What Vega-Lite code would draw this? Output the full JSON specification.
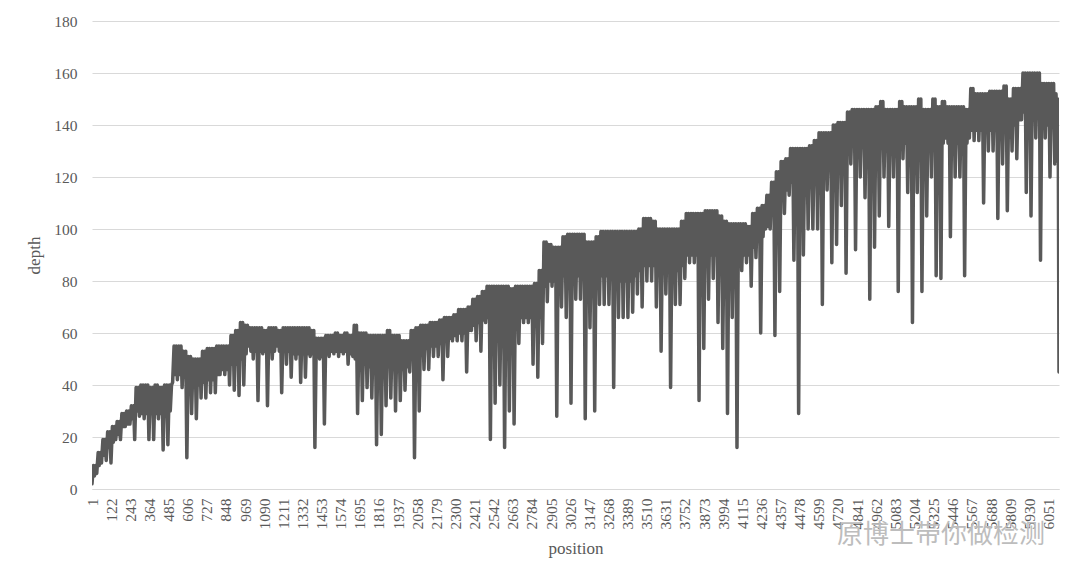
{
"$schema": "https://vega.github.io/schema/vega-lite/v6.json",
"width": 967,
"height": 468,
"autosize": {"type": "none"},
"padding": {"left": 92, "top": 21, "right": 21, "bottom": 95},
"background": "white",
"config": {"view": {"stroke": null}, "font": "Liberation Serif, Times New Roman, serif"},
"title": {"text": "原博士带你做检测", "orient": "bottom", "anchor": "end", "frame": "group", "offset": -34, "dx": -14, "font": "Noto Sans CJK SC", "fontSize": 26, "fontWeight": "normal", "color": "#bdbdbd", "baseline": "top"},
"data": {"values": [
{"position":1,"depth":2},{"position":10,"depth":9},{"position":16,"depth":5},{"position":24,"depth":9},{"position":31,"depth":6},{"position":40,"depth":14},{"position":46,"depth":9},{"position":54,"depth":14},{"position":61,"depth":10},{"position":70,"depth":19},{"position":76,"depth":13},{"position":84,"depth":19},{"position":91,"depth":11},{"position":100,"depth":22},{"position":106,"depth":16},{"position":114,"depth":22},{"position":121,"depth":10},{"position":130,"depth":24},{"position":136,"depth":18},{"position":144,"depth":24},
{"position":151,"depth":19},{"position":160,"depth":26},{"position":166,"depth":21},{"position":174,"depth":26},{"position":181,"depth":19},{"position":190,"depth":29},{"position":196,"depth":24},{"position":204,"depth":29},{"position":211,"depth":24},{"position":220,"depth":30},{"position":226,"depth":25},{"position":234,"depth":30},{"position":241,"depth":25},{"position":250,"depth":32},{"position":256,"depth":27},{"position":264,"depth":32},{"position":271,"depth":19},{"position":280,"depth":39},{"position":286,"depth":30},{"position":294,"depth":39},
{"position":301,"depth":28},{"position":310,"depth":40},{"position":316,"depth":29},{"position":324,"depth":40},{"position":331,"depth":27},{"position":340,"depth":40},{"position":346,"depth":29},{"position":354,"depth":40},{"position":361,"depth":19},{"position":370,"depth":39},{"position":376,"depth":29},{"position":384,"depth":39},{"position":391,"depth":19},{"position":400,"depth":40},{"position":406,"depth":29},{"position":414,"depth":40},{"position":421,"depth":27},{"position":430,"depth":39},{"position":436,"depth":29},{"position":444,"depth":39},
{"position":451,"depth":15},{"position":460,"depth":40},{"position":466,"depth":29},{"position":474,"depth":40},{"position":481,"depth":17},{"position":490,"depth":40},{"position":496,"depth":30},{"position":504,"depth":40},{"position":511,"depth":41},{"position":520,"depth":55},{"position":526,"depth":44},{"position":534,"depth":55},{"position":541,"depth":42},{"position":550,"depth":55},{"position":556,"depth":44},{"position":564,"depth":55},{"position":571,"depth":39},{"position":580,"depth":53},{"position":586,"depth":43},{"position":594,"depth":53},
{"position":601,"depth":12},{"position":610,"depth":51},{"position":616,"depth":41},{"position":624,"depth":51},{"position":631,"depth":29},{"position":640,"depth":50},{"position":646,"depth":40},{"position":654,"depth":50},{"position":661,"depth":27},{"position":670,"depth":50},{"position":676,"depth":40},{"position":684,"depth":50},{"position":691,"depth":35},{"position":700,"depth":53},{"position":706,"depth":41},{"position":714,"depth":53},{"position":721,"depth":35},{"position":730,"depth":54},{"position":736,"depth":42},{"position":744,"depth":54},
{"position":751,"depth":37},{"position":760,"depth":54},{"position":766,"depth":42},{"position":774,"depth":54},{"position":781,"depth":37},{"position":790,"depth":55},{"position":796,"depth":44},{"position":804,"depth":55},{"position":811,"depth":44},{"position":820,"depth":55},{"position":826,"depth":46},{"position":834,"depth":55},{"position":841,"depth":44},{"position":850,"depth":55},{"position":856,"depth":46},{"position":864,"depth":55},{"position":871,"depth":40},{"position":880,"depth":59},{"position":886,"depth":48},{"position":894,"depth":59},
{"position":901,"depth":38},{"position":910,"depth":61},{"position":916,"depth":48},{"position":924,"depth":61},{"position":931,"depth":36},{"position":940,"depth":64},{"position":946,"depth":50},{"position":954,"depth":64},{"position":961,"depth":40},{"position":970,"depth":63},{"position":976,"depth":52},{"position":984,"depth":63},{"position":991,"depth":55},{"position":1000,"depth":62},{"position":1006,"depth":53},{"position":1014,"depth":62},{"position":1021,"depth":50},{"position":1030,"depth":62},{"position":1036,"depth":53},{"position":1044,"depth":62},
{"position":1051,"depth":34},{"position":1060,"depth":62},{"position":1066,"depth":53},{"position":1074,"depth":62},{"position":1081,"depth":52},{"position":1090,"depth":61},{"position":1096,"depth":53},{"position":1104,"depth":61},{"position":1111,"depth":32},{"position":1120,"depth":62},{"position":1126,"depth":53},{"position":1134,"depth":62},{"position":1141,"depth":50},{"position":1150,"depth":62},{"position":1156,"depth":53},{"position":1164,"depth":62},{"position":1171,"depth":55},{"position":1180,"depth":61},{"position":1186,"depth":53},{"position":1194,"depth":61},
{"position":1201,"depth":37},{"position":1210,"depth":62},{"position":1216,"depth":53},{"position":1224,"depth":62},{"position":1231,"depth":48},{"position":1240,"depth":62},{"position":1246,"depth":53},{"position":1254,"depth":62},{"position":1261,"depth":43},{"position":1270,"depth":62},{"position":1276,"depth":52},{"position":1284,"depth":62},{"position":1291,"depth":50},{"position":1300,"depth":62},{"position":1306,"depth":52},{"position":1314,"depth":62},{"position":1321,"depth":41},{"position":1330,"depth":62},{"position":1336,"depth":52},{"position":1344,"depth":62},
{"position":1351,"depth":43},{"position":1360,"depth":62},{"position":1366,"depth":52},{"position":1374,"depth":62},{"position":1381,"depth":51},{"position":1390,"depth":61},{"position":1396,"depth":52},{"position":1404,"depth":61},{"position":1411,"depth":16},{"position":1420,"depth":58},{"position":1426,"depth":51},{"position":1434,"depth":58},{"position":1441,"depth":50},{"position":1450,"depth":58},{"position":1456,"depth":51},{"position":1464,"depth":58},{"position":1471,"depth":25},{"position":1480,"depth":59},{"position":1486,"depth":52},{"position":1494,"depth":59},
{"position":1501,"depth":51},{"position":1510,"depth":59},{"position":1516,"depth":53},{"position":1524,"depth":59},{"position":1531,"depth":52},{"position":1540,"depth":60},{"position":1546,"depth":53},{"position":1554,"depth":60},{"position":1561,"depth":51},{"position":1570,"depth":59},{"position":1576,"depth":53},{"position":1584,"depth":59},{"position":1591,"depth":52},{"position":1600,"depth":60},{"position":1606,"depth":53},{"position":1614,"depth":60},{"position":1621,"depth":48},{"position":1630,"depth":59},{"position":1636,"depth":52},{"position":1644,"depth":59},
{"position":1651,"depth":51},{"position":1660,"depth":63},{"position":1666,"depth":50},{"position":1674,"depth":63},{"position":1681,"depth":29},{"position":1690,"depth":60},{"position":1696,"depth":48},{"position":1704,"depth":60},{"position":1711,"depth":34},{"position":1720,"depth":60},{"position":1726,"depth":48},{"position":1734,"depth":60},{"position":1741,"depth":39},{"position":1750,"depth":59},{"position":1756,"depth":47},{"position":1764,"depth":59},{"position":1771,"depth":35},{"position":1780,"depth":59},{"position":1786,"depth":47},{"position":1794,"depth":59},
{"position":1801,"depth":17},{"position":1810,"depth":59},{"position":1816,"depth":47},{"position":1824,"depth":59},{"position":1831,"depth":21},{"position":1840,"depth":59},{"position":1846,"depth":47},{"position":1854,"depth":59},{"position":1861,"depth":32},{"position":1870,"depth":61},{"position":1876,"depth":47},{"position":1884,"depth":61},{"position":1891,"depth":35},{"position":1900,"depth":59},{"position":1906,"depth":46},{"position":1914,"depth":59},{"position":1921,"depth":30},{"position":1930,"depth":59},{"position":1936,"depth":46},{"position":1944,"depth":59},
{"position":1951,"depth":34},{"position":1960,"depth":57},{"position":1966,"depth":46},{"position":1974,"depth":57},{"position":1981,"depth":38},{"position":1990,"depth":57},{"position":1996,"depth":47},{"position":2004,"depth":57},{"position":2011,"depth":45},{"position":2020,"depth":61},{"position":2026,"depth":50},{"position":2034,"depth":61},{"position":2041,"depth":12},{"position":2050,"depth":62},{"position":2056,"depth":52},{"position":2064,"depth":62},{"position":2071,"depth":30},{"position":2080,"depth":63},{"position":2086,"depth":53},{"position":2094,"depth":63},
{"position":2101,"depth":46},{"position":2110,"depth":63},{"position":2116,"depth":54},{"position":2124,"depth":63},{"position":2131,"depth":46},{"position":2140,"depth":64},{"position":2146,"depth":55},{"position":2154,"depth":64},{"position":2161,"depth":51},{"position":2170,"depth":64},{"position":2176,"depth":55},{"position":2184,"depth":64},{"position":2191,"depth":51},{"position":2200,"depth":65},{"position":2206,"depth":56},{"position":2214,"depth":65},{"position":2221,"depth":42},{"position":2230,"depth":66},{"position":2236,"depth":57},{"position":2244,"depth":66},
{"position":2251,"depth":51},{"position":2260,"depth":66},{"position":2266,"depth":58},{"position":2274,"depth":66},{"position":2281,"depth":57},{"position":2290,"depth":67},{"position":2296,"depth":59},{"position":2304,"depth":67},{"position":2311,"depth":57},{"position":2320,"depth":69},{"position":2326,"depth":60},{"position":2334,"depth":69},{"position":2341,"depth":57},{"position":2350,"depth":69},{"position":2356,"depth":60},{"position":2364,"depth":69},{"position":2371,"depth":45},{"position":2380,"depth":70},{"position":2386,"depth":61},{"position":2394,"depth":70},
{"position":2401,"depth":61},{"position":2410,"depth":73},{"position":2416,"depth":63},{"position":2424,"depth":73},{"position":2431,"depth":57},{"position":2440,"depth":74},{"position":2446,"depth":64},{"position":2454,"depth":74},{"position":2461,"depth":53},{"position":2470,"depth":76},{"position":2476,"depth":65},{"position":2484,"depth":76},{"position":2491,"depth":64},{"position":2500,"depth":78},{"position":2506,"depth":66},{"position":2514,"depth":78},{"position":2521,"depth":19},{"position":2530,"depth":78},{"position":2536,"depth":62},{"position":2544,"depth":78},
{"position":2551,"depth":33},{"position":2560,"depth":78},{"position":2566,"depth":60},{"position":2574,"depth":78},{"position":2581,"depth":40},{"position":2590,"depth":78},{"position":2596,"depth":60},{"position":2604,"depth":78},{"position":2611,"depth":16},{"position":2620,"depth":78},{"position":2626,"depth":60},{"position":2634,"depth":78},{"position":2641,"depth":30},{"position":2650,"depth":77},{"position":2656,"depth":60},{"position":2664,"depth":77},{"position":2671,"depth":25},{"position":2680,"depth":78},{"position":2686,"depth":64},{"position":2694,"depth":78},
{"position":2701,"depth":56},{"position":2710,"depth":78},{"position":2716,"depth":66},{"position":2724,"depth":78},{"position":2731,"depth":64},{"position":2740,"depth":78},{"position":2746,"depth":66},{"position":2754,"depth":78},{"position":2761,"depth":64},{"position":2770,"depth":78},{"position":2776,"depth":66},{"position":2784,"depth":78},{"position":2791,"depth":48},{"position":2800,"depth":79},{"position":2806,"depth":64},{"position":2814,"depth":79},{"position":2821,"depth":43},{"position":2830,"depth":84},{"position":2836,"depth":66},{"position":2844,"depth":84},
{"position":2851,"depth":56},{"position":2860,"depth":95},{"position":2866,"depth":78},{"position":2874,"depth":95},{"position":2881,"depth":72},{"position":2890,"depth":94},{"position":2896,"depth":80},{"position":2904,"depth":94},{"position":2911,"depth":78},{"position":2920,"depth":93},{"position":2926,"depth":80},{"position":2934,"depth":93},{"position":2941,"depth":28},{"position":2950,"depth":93},{"position":2956,"depth":80},{"position":2964,"depth":93},{"position":2971,"depth":70},{"position":2980,"depth":97},{"position":2986,"depth":82},{"position":2994,"depth":97},
{"position":3001,"depth":66},{"position":3010,"depth":98},{"position":3016,"depth":82},{"position":3024,"depth":98},{"position":3031,"depth":33},{"position":3040,"depth":98},{"position":3046,"depth":82},{"position":3054,"depth":98},{"position":3061,"depth":73},{"position":3070,"depth":98},{"position":3076,"depth":82},{"position":3084,"depth":98},{"position":3091,"depth":73},{"position":3100,"depth":98},{"position":3106,"depth":82},{"position":3114,"depth":98},{"position":3121,"depth":27},{"position":3130,"depth":95},{"position":3136,"depth":80},{"position":3144,"depth":95},
{"position":3151,"depth":62},{"position":3160,"depth":95},{"position":3166,"depth":80},{"position":3174,"depth":95},{"position":3181,"depth":30},{"position":3190,"depth":97},{"position":3196,"depth":82},{"position":3204,"depth":97},{"position":3211,"depth":71},{"position":3220,"depth":99},{"position":3226,"depth":82},{"position":3234,"depth":99},{"position":3241,"depth":71},{"position":3250,"depth":99},{"position":3256,"depth":82},{"position":3264,"depth":99},{"position":3271,"depth":71},{"position":3280,"depth":99},{"position":3286,"depth":82},{"position":3294,"depth":99},
{"position":3301,"depth":39},{"position":3310,"depth":99},{"position":3316,"depth":80},{"position":3324,"depth":99},{"position":3331,"depth":66},{"position":3340,"depth":99},{"position":3346,"depth":80},{"position":3354,"depth":99},{"position":3361,"depth":66},{"position":3370,"depth":99},{"position":3376,"depth":80},{"position":3384,"depth":99},{"position":3391,"depth":66},{"position":3400,"depth":99},{"position":3406,"depth":80},{"position":3414,"depth":99},{"position":3421,"depth":68},{"position":3430,"depth":99},{"position":3436,"depth":82},{"position":3444,"depth":99},
{"position":3451,"depth":75},{"position":3460,"depth":100},{"position":3466,"depth":84},{"position":3474,"depth":100},{"position":3481,"depth":70},{"position":3490,"depth":104},{"position":3496,"depth":86},{"position":3504,"depth":104},{"position":3511,"depth":80},{"position":3520,"depth":104},{"position":3526,"depth":86},{"position":3534,"depth":104},{"position":3541,"depth":80},{"position":3550,"depth":103},{"position":3556,"depth":86},{"position":3564,"depth":103},{"position":3571,"depth":70},{"position":3580,"depth":100},{"position":3586,"depth":84},{"position":3594,"depth":100},
{"position":3601,"depth":53},{"position":3610,"depth":100},{"position":3616,"depth":84},{"position":3624,"depth":100},{"position":3631,"depth":75},{"position":3640,"depth":100},{"position":3646,"depth":84},{"position":3654,"depth":100},{"position":3661,"depth":39},{"position":3670,"depth":100},{"position":3676,"depth":84},{"position":3684,"depth":100},{"position":3691,"depth":71},{"position":3700,"depth":100},{"position":3706,"depth":84},{"position":3714,"depth":100},{"position":3721,"depth":71},{"position":3730,"depth":103},{"position":3736,"depth":86},{"position":3744,"depth":103},
{"position":3751,"depth":81},{"position":3760,"depth":106},{"position":3766,"depth":90},{"position":3774,"depth":106},{"position":3781,"depth":87},{"position":3790,"depth":106},{"position":3796,"depth":90},{"position":3804,"depth":106},{"position":3811,"depth":87},{"position":3820,"depth":106},{"position":3826,"depth":90},{"position":3834,"depth":106},{"position":3841,"depth":34},{"position":3850,"depth":106},{"position":3856,"depth":90},{"position":3864,"depth":106},{"position":3871,"depth":54},{"position":3880,"depth":107},{"position":3886,"depth":90},{"position":3894,"depth":107},
{"position":3901,"depth":73},{"position":3910,"depth":107},{"position":3916,"depth":90},{"position":3924,"depth":107},{"position":3931,"depth":81},{"position":3940,"depth":107},{"position":3946,"depth":90},{"position":3954,"depth":107},{"position":3961,"depth":64},{"position":3970,"depth":105},{"position":3976,"depth":88},{"position":3984,"depth":105},{"position":3991,"depth":54},{"position":4000,"depth":103},{"position":4006,"depth":87},{"position":4014,"depth":103},{"position":4021,"depth":29},{"position":4030,"depth":102},{"position":4036,"depth":87},{"position":4044,"depth":102},
{"position":4051,"depth":66},{"position":4060,"depth":102},{"position":4066,"depth":87},{"position":4074,"depth":102},{"position":4081,"depth":16},{"position":4090,"depth":102},{"position":4096,"depth":88},{"position":4104,"depth":102},{"position":4111,"depth":84},{"position":4120,"depth":102},{"position":4126,"depth":90},{"position":4134,"depth":102},{"position":4141,"depth":87},{"position":4150,"depth":101},{"position":4156,"depth":90},{"position":4164,"depth":101},{"position":4171,"depth":78},{"position":4180,"depth":106},{"position":4186,"depth":93},{"position":4194,"depth":106},
{"position":4201,"depth":89},{"position":4210,"depth":108},{"position":4216,"depth":96},{"position":4224,"depth":108},{"position":4231,"depth":60},{"position":4240,"depth":109},{"position":4246,"depth":97},{"position":4254,"depth":109},{"position":4261,"depth":100},{"position":4270,"depth":113},{"position":4276,"depth":101},{"position":4284,"depth":113},{"position":4291,"depth":100},{"position":4300,"depth":118},{"position":4306,"depth":106},{"position":4314,"depth":118},{"position":4321,"depth":59},{"position":4330,"depth":122},{"position":4336,"depth":110},{"position":4344,"depth":122},
{"position":4351,"depth":76},{"position":4360,"depth":126},{"position":4366,"depth":112},{"position":4374,"depth":126},{"position":4381,"depth":106},{"position":4390,"depth":127},{"position":4396,"depth":115},{"position":4404,"depth":127},{"position":4411,"depth":113},{"position":4420,"depth":131},{"position":4426,"depth":118},{"position":4434,"depth":131},{"position":4441,"depth":88},{"position":4450,"depth":131},{"position":4456,"depth":118},{"position":4464,"depth":131},{"position":4471,"depth":29},{"position":4480,"depth":131},{"position":4486,"depth":118},{"position":4494,"depth":131},
{"position":4501,"depth":90},{"position":4510,"depth":131},{"position":4516,"depth":120},{"position":4524,"depth":131},{"position":4531,"depth":100},{"position":4540,"depth":132},{"position":4546,"depth":120},{"position":4554,"depth":132},{"position":4561,"depth":100},{"position":4570,"depth":134},{"position":4576,"depth":120},{"position":4584,"depth":134},{"position":4591,"depth":100},{"position":4600,"depth":137},{"position":4606,"depth":122},{"position":4614,"depth":137},{"position":4621,"depth":71},{"position":4630,"depth":137},{"position":4636,"depth":124},{"position":4644,"depth":137},
{"position":4651,"depth":115},{"position":4660,"depth":137},{"position":4666,"depth":125},{"position":4674,"depth":137},{"position":4681,"depth":87},{"position":4690,"depth":140},{"position":4696,"depth":127},{"position":4704,"depth":140},{"position":4711,"depth":94},{"position":4720,"depth":141},{"position":4726,"depth":128},{"position":4734,"depth":141},{"position":4741,"depth":109},{"position":4750,"depth":141},{"position":4756,"depth":128},{"position":4764,"depth":141},{"position":4771,"depth":83},{"position":4780,"depth":145},{"position":4786,"depth":132},{"position":4794,"depth":145},
{"position":4801,"depth":125},{"position":4810,"depth":146},{"position":4816,"depth":132},{"position":4824,"depth":146},{"position":4831,"depth":92},{"position":4840,"depth":146},{"position":4846,"depth":132},{"position":4854,"depth":146},{"position":4861,"depth":120},{"position":4870,"depth":146},{"position":4876,"depth":132},{"position":4884,"depth":146},{"position":4891,"depth":112},{"position":4900,"depth":146},{"position":4906,"depth":132},{"position":4914,"depth":146},{"position":4921,"depth":73},{"position":4930,"depth":146},{"position":4936,"depth":132},{"position":4944,"depth":146},
{"position":4951,"depth":93},{"position":4960,"depth":147},{"position":4966,"depth":133},{"position":4974,"depth":147},{"position":4981,"depth":105},{"position":4990,"depth":149},{"position":4996,"depth":133},{"position":5004,"depth":149},{"position":5011,"depth":120},{"position":5020,"depth":146},{"position":5026,"depth":133},{"position":5034,"depth":146},{"position":5041,"depth":101},{"position":5050,"depth":146},{"position":5056,"depth":133},{"position":5064,"depth":146},{"position":5071,"depth":120},{"position":5080,"depth":146},{"position":5086,"depth":133},{"position":5094,"depth":146},
{"position":5101,"depth":76},{"position":5110,"depth":149},{"position":5116,"depth":133},{"position":5124,"depth":149},{"position":5131,"depth":127},{"position":5140,"depth":147},{"position":5146,"depth":133},{"position":5154,"depth":147},{"position":5161,"depth":114},{"position":5170,"depth":147},{"position":5176,"depth":133},{"position":5184,"depth":147},{"position":5191,"depth":64},{"position":5200,"depth":147},{"position":5206,"depth":133},{"position":5214,"depth":147},{"position":5221,"depth":114},{"position":5230,"depth":150},{"position":5236,"depth":133},{"position":5244,"depth":150},
{"position":5251,"depth":76},{"position":5260,"depth":146},{"position":5266,"depth":133},{"position":5274,"depth":146},{"position":5281,"depth":105},{"position":5290,"depth":146},{"position":5296,"depth":133},{"position":5304,"depth":146},{"position":5311,"depth":120},{"position":5320,"depth":150},{"position":5326,"depth":133},{"position":5334,"depth":150},{"position":5341,"depth":82},{"position":5350,"depth":147},{"position":5356,"depth":133},{"position":5364,"depth":147},{"position":5371,"depth":81},{"position":5380,"depth":149},{"position":5386,"depth":133},{"position":5394,"depth":149},
{"position":5401,"depth":135},{"position":5410,"depth":147},{"position":5416,"depth":133},{"position":5424,"depth":147},{"position":5431,"depth":97},{"position":5440,"depth":147},{"position":5446,"depth":133},{"position":5454,"depth":147},{"position":5461,"depth":120},{"position":5470,"depth":147},{"position":5476,"depth":133},{"position":5484,"depth":147},{"position":5491,"depth":120},{"position":5500,"depth":147},{"position":5506,"depth":133},{"position":5514,"depth":147},{"position":5521,"depth":82},{"position":5530,"depth":146},{"position":5536,"depth":133},{"position":5544,"depth":146},
{"position":5551,"depth":135},{"position":5560,"depth":154},{"position":5566,"depth":138},{"position":5574,"depth":154},{"position":5581,"depth":134},{"position":5590,"depth":152},{"position":5596,"depth":138},{"position":5604,"depth":152},{"position":5611,"depth":134},{"position":5620,"depth":152},{"position":5626,"depth":138},{"position":5634,"depth":152},{"position":5641,"depth":110},{"position":5650,"depth":152},{"position":5656,"depth":138},{"position":5664,"depth":152},{"position":5671,"depth":130},{"position":5680,"depth":153},{"position":5686,"depth":138},{"position":5694,"depth":153},
{"position":5701,"depth":130},{"position":5710,"depth":153},{"position":5716,"depth":138},{"position":5724,"depth":153},{"position":5731,"depth":104},{"position":5740,"depth":153},{"position":5746,"depth":138},{"position":5754,"depth":153},{"position":5761,"depth":125},{"position":5770,"depth":155},{"position":5776,"depth":138},{"position":5784,"depth":155},{"position":5791,"depth":107},{"position":5800,"depth":150},{"position":5806,"depth":138},{"position":5814,"depth":150},{"position":5821,"depth":130},{"position":5830,"depth":154},{"position":5836,"depth":140},{"position":5844,"depth":154},
{"position":5851,"depth":127},{"position":5860,"depth":154},{"position":5866,"depth":142},{"position":5874,"depth":154},{"position":5881,"depth":142},{"position":5890,"depth":160},{"position":5896,"depth":145},{"position":5904,"depth":160},{"position":5911,"depth":114},{"position":5920,"depth":160},{"position":5926,"depth":145},{"position":5934,"depth":160},{"position":5941,"depth":105},{"position":5950,"depth":160},{"position":5956,"depth":145},{"position":5964,"depth":160},{"position":5971,"depth":135},{"position":5980,"depth":160},{"position":5986,"depth":145},{"position":5994,"depth":160},
{"position":6001,"depth":88},{"position":6010,"depth":156},{"position":6016,"depth":140},{"position":6024,"depth":156},{"position":6031,"depth":135},{"position":6040,"depth":156},{"position":6046,"depth":140},{"position":6054,"depth":156},{"position":6061,"depth":120},{"position":6070,"depth":156},{"position":6076,"depth":140},{"position":6084,"depth":156},{"position":6091,"depth":125},{"position":6099,"depth":152},{"position":6106,"depth":140},{"position":6110,"depth":150},{"position":6114,"depth":123},{"position":6118,"depth":45}
]},
"mark": {"type": "line", "color": "#595959", "strokeWidth": 3.5, "strokeJoin": "round", "strokeCap": "round", "clip": true},
"encoding": {
"x": {"field": "position", "type": "quantitative", "scale": {"domain": [1, 6118], "nice": false, "zero": false},
 "axis": {"title": "position", "values": [1,122,243,364,485,606,727,848,969,1090,1211,1332,1453,1574,1695,1816,1937,2058,2179,2300,2421,2542,2663,2784,2905,3026,3147,3268,3389,3510,3631,3752,3873,3994,4115,4236,4357,4478,4599,4720,4841,4962,5083,5204,5325,5446,5567,5688,5809,5930,6051],
 "format": "d", "labelAngle": -90, "labelOverlap": false, "labelFlush": false, "labelFontSize": 15.5, "labelColor": "#595959", "labelFont": "Liberation Serif, Times New Roman, serif", "ticks": false, "grid": false, "domainColor": "#d9d9d9", "labelPadding": 9, "titleFontSize": 17, "titleFont": "Liberation Serif, Times New Roman, serif", "titleFontWeight": "normal", "titleColor": "#595959", "titlePadding": 11}},
"y": {"field": "depth", "type": "quantitative", "scale": {"domain": [0, 180], "nice": false},
 "axis": {"title": "depth", "values": [0,20,40,60,80,100,120,140,160,180], "format": "d", "grid": true, "gridColor": "#d9d9d9", "gridWidth": 1, "domain": false, "ticks": false, "labelPadding": 15, "labelFontSize": 15.5, "labelColor": "#595959", "labelFont": "Liberation Serif, Times New Roman, serif", "titleFontSize": 17, "titleFont": "Liberation Serif, Times New Roman, serif", "titleFontWeight": "normal", "titleColor": "#595959", "titlePadding": 10}}
}
}
